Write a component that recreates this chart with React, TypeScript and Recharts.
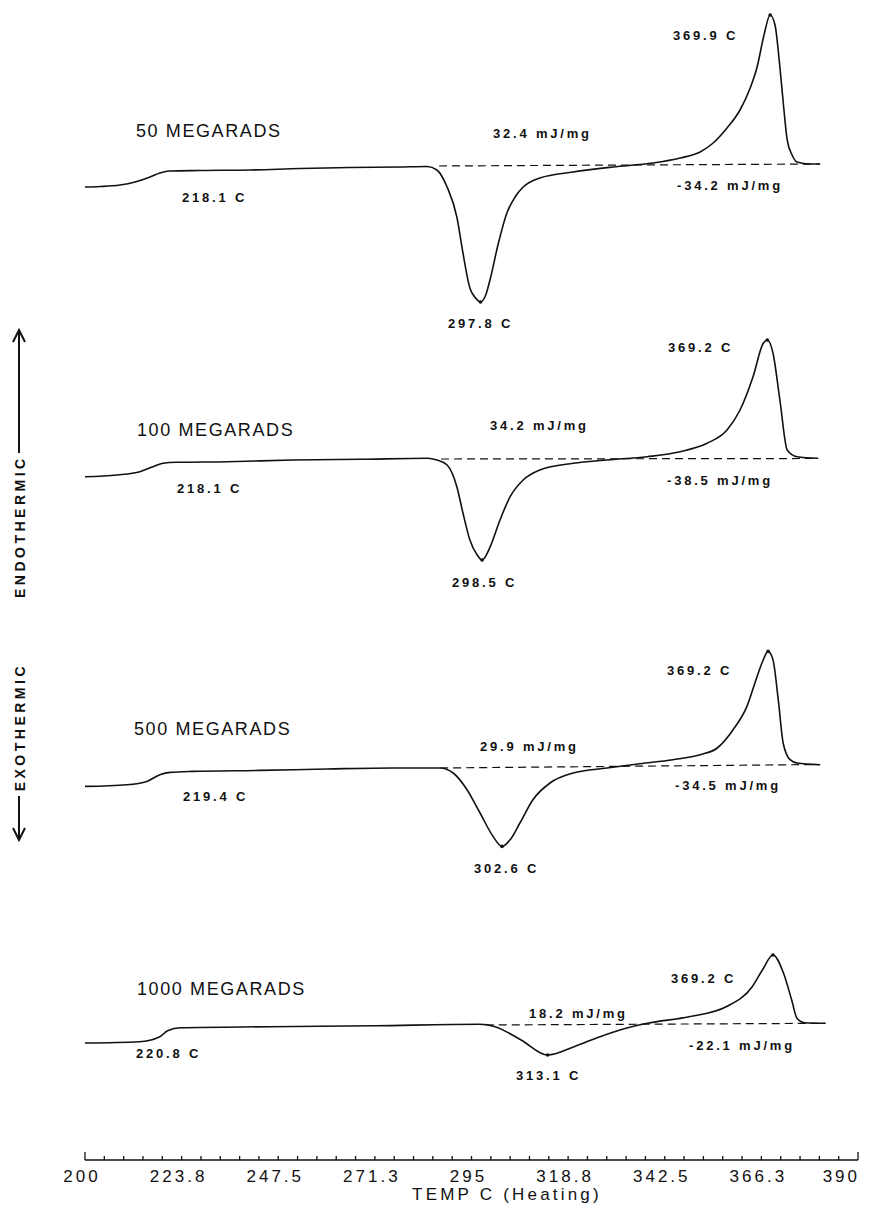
import React from "react";
import { LineChart, Line, XAxis, YAxis, ReferenceDot } from "recharts";

// DSC heating scans, temperature in C, heat flow relative to the
// extrapolated baseline (arbitrary units, endothermic up)
const temp50 = [200, 203.7, 208.6, 212.3, 216.0, 218.4, 220.9, 228.3, 240.6, 252.9, 265.1, 277.4, 284.1, 286.5, 289.0, 291.4, 292.9, 294.6, 296.0, 297.2, 298.4, 299.6, 301.5, 303.7, 305.7, 307.7, 311.8, 320.0, 329.8, 339.6, 346.3, 351.2, 354.4, 357.8, 361.0, 363.5, 365.2, 366.9, 368.4, 369.6, 370.8, 371.8, 372.6, 373.8, 375.0, 378.2, 380.7];
const flow50 = [-21, -20.5, -19, -16, -11, -7, -5, -4.5, -4, -2.5, -1.5, -1, -0.5, -4, -21, -51, -87, -122, -132, -136, -130, -113, -79, -47, -31, -21, -12, -6, -1, 3, 8, 14, 23, 38, 56, 78, 99, 131, 151, 141, 99, 56, 26, 11, 4, 2, 2];

const temp100 = [200, 207.9, 213.5, 216.7, 219.2, 222.6, 234.9, 251.1, 267.6, 284.1, 286.5, 289.0, 291.4, 292.9, 294.6, 296.4, 297.6, 299.6, 302.0, 304.5, 307.7, 311.8, 320.0, 328.3, 338.2, 346.3, 352.9, 357.8, 361.0, 364.2, 366.7, 367.7, 369.1, 370.8, 372.6, 375.0, 380.2];
const flow100 = [-17.7, -16, -12.7, -7.7, -4.3, -3.3, -2.7, -1, -0.3, 0.7, -1, -6, -27.7, -54, -81, -96, -101, -87.7, -61, -37.7, -21, -11, -4.3, -1, 2.3, 7.3, 15.7, 29, 49, 82.3, 115.7, 119, 106, 59, 9, 2.3, 0.7];

const temp500 = [200, 210.3, 215.2, 218.4, 220.9, 226.5, 243.0, 259.5, 275.7, 287.3, 290.5, 293.9, 297.1, 300.3, 302.5, 304.5, 306.9, 310.1, 314.3, 320.0, 328.3, 336.4, 344.5, 351.2, 355.4, 359.3, 362.7, 365.2, 366.7, 367.9, 369.1, 370.4, 371.6, 373.3, 375.0, 380.7];
const flow500 = [-18.4, -16.7, -13.4, -6.7, -4.4, -3.4, -2.4, -1, 0, 0, -5, -21.7, -45, -68.4, -78.4, -71.7, -55, -31.7, -15, -5, 0, 4.3, 8.3, 13.3, 20, 38.3, 61.6, 91.6, 108, 116.6, 108.3, 68.3, 25, 8.3, 5, 3.3];

const temp1000 = [200, 213.3, 218.4, 220.3, 223.5, 245.4, 271.2, 297.0, 300.8, 307.2, 313.7, 320.2, 326.6, 333.0, 338.2, 348.5, 357.6, 364.0, 366.5, 369.1, 371.7, 373.7, 375.0, 376.9, 382.0];
const flow1000 = [-18, -16.7, -11.7, -5.7, -2.7, -1.7, -0.7, 0.7, -1.7, -15, -30, -21.7, -11.7, -3.3, 1.7, 8.3, 18.3, 38.3, 55, 70, 51.7, 25, 6.7, 2.3, 1.7];

// vertical stacking offset of each scan
const traceOffset = [994, 701, 392, 135];

// extrapolated (dashed) baselines
const baseStart = [287.0, 287.5, 287.3, 298.5];
const baseEnd = [380.7, 380.2, 380.7, 382.0];
const baseEndFlow = [2, 0.5, 3.5, 1.7];

const doseLabels = ["50 MEGARADS", "100 MEGARADS", "500 MEGARADS", "1000 MEGARADS"];
const onsetLabels = ["218.1 C", "218.1 C", "219.4 C", "220.8 C"];
const dipLabels = ["297.8 C", "298.5 C", "302.6 C", "313.1 C"];
const peakLabels = ["369.9 C", "369.2 C", "369.2 C", "369.2 C"];
const exoLabels = ["32.4 mJ/mg", "34.2 mJ/mg", "29.9 mJ/mg", "18.2 mJ/mg"];
const endoLabels = ["-34.2 mJ/mg", "-38.5 mJ/mg", "-34.5 mJ/mg", "-22.1 mJ/mg"];

const majorTicks = [200, 223.75, 247.5, 271.25, 295, 318.75, 342.5, 366.25, 390];
const tickLabels = ["200", "223.8", "247.5", "271.3", "295", "318.8", "342.5", "366.3", "390"];

const W = 878;
const H = 1206;
const INK = "#111";
const FONT = "'Liberation Sans', Arial, sans-serif";

const allTicks: number[] = [];
majorTicks.forEach((t, i) => {
  if (i === majorTicks.length - 1) { allTicks.push(t); return; }
  const step = (majorTicks[i + 1] - t) / 5;
  for (let k = 0; k < 5; k++) allTicks.push(+(t + k * step).toFixed(2));
});

function TempTick(props: any) {
  const { x, y, payload } = props;
  const i = allTicks.findIndex((t) => Math.abs(t - payload.value) < 0.01);
  const isEnd = i === 0 || i === allTicks.length - 1;
  const last = i === allTicks.length - 1;
  return (
    <g>
      <line x1={x} x2={x} y1={y} y2={y - (isEnd ? 8 : 4)} stroke={INK} strokeWidth={1.3} />
      {i % 5 === 0 && (
        <text x={last ? x + 2 : x - 3} y={y + 22} textAnchor={last ? "end" : "middle"} fontSize={17}
          letterSpacing={3} fontFamily={FONT} fill={INK}>
          {tickLabels[i / 5]}
        </text>
      )}
    </g>
  );
}

// label positions (left x, baseline y) per scan
const dosePos = [[136, 137], [137, 436], [134, 735], [137, 995]];
const onsetPos = [[182, 202], [177, 493], [183, 801], [136, 1058]];
const dipPos = [[448, 328], [452, 587], [474, 873], [516, 1080]];
const peakPos = [[673, 40], [668, 352], [667, 675], [671, 983]];
const exoPos = [[493, 138], [490, 430], [480, 751], [529, 1018]];
const endoPos = [[677, 190], [667, 485], [675, 790], [689, 1050]];

export default function App() {
  const scans = [
    { temps: temp50, flow: flow50 },
    { temps: temp100, flow: flow100 },
    { temps: temp500, flow: flow500 },
    { temps: temp1000, flow: flow1000 },
  ].map((s, k) => s.temps.map((t, i) => ({ t, v: traceOffset[k] + s.flow[i] })));

  const baselines = traceOffset.map((off, k) => [
    { t: baseStart[k], v: off },
    { t: baseEnd[k], v: off + baseEndFlow[k] },
  ]);

  const extremes = scans.map((pts) => {
    let lo = pts[0], hi = pts[0];
    pts.forEach((p) => { if (p.v < lo.v) lo = p; if (p.v > hi.v) hi = p; });
    return [lo, hi];
  });

  const small = { fontSize: 13, fontWeight: 700, letterSpacing: 2.8, fontFamily: FONT, fill: INK } as any;
  const big = { fontSize: 18, letterSpacing: 1.6, fontFamily: FONT, fill: INK } as any;

  return (
    <div style={{ position: "absolute", left: 0, top: 0, width: W, height: H, overflow: "hidden", background: "#fff" }}>
      <LineChart width={W} height={H} margin={{ top: 0, right: 20, bottom: 0, left: 85 }}>
        <XAxis type="number" dataKey="t" domain={[200, 390]} ticks={allTicks} interval={0}
          height={46} tickSize={0} tickMargin={0} tickLine={false}
          axisLine={{ stroke: INK, strokeWidth: 1.6 }} tick={(p: any) => <TempTick {...p} />} allowDataOverflow />
        <YAxis type="number" hide domain={[0, 1160]} allowDataOverflow />
        {baselines.map((d, k) => (
          <Line key={"b" + k} data={d} dataKey="v" type="linear" stroke={INK} strokeWidth={1.2}
            strokeDasharray="8 5" dot={false} isAnimationActive={false} />
        ))}
        {scans.map((d, k) => (
          <Line key={"s" + k} data={d} dataKey="v" type="monotone" stroke={INK} strokeWidth={1.6}
            dot={false} isAnimationActive={false} />
        ))}
        {extremes.flat().map((p, k) => (
          <ReferenceDot key={"e" + k} x={p.t} y={p.v} r={1.8} fill={INK} stroke="none" />
        ))}
      </LineChart>

      <svg width={W} height={H} style={{ position: "absolute", left: 0, top: 0, pointerEvents: "none" }}>
        {doseLabels.map((s, k) => <text key={"d" + k} x={dosePos[k][0]} y={dosePos[k][1]} {...big}>{s}</text>)}
        {onsetLabels.map((s, k) => <text key={"o" + k} x={onsetPos[k][0]} y={onsetPos[k][1]} {...small}>{s}</text>)}
        {dipLabels.map((s, k) => <text key={"m" + k} x={dipPos[k][0]} y={dipPos[k][1]} {...small}>{s}</text>)}
        {peakLabels.map((s, k) => <text key={"p" + k} x={peakPos[k][0]} y={peakPos[k][1]} {...small}>{s}</text>)}
        {exoLabels.map((s, k) => <text key={"x" + k} x={exoPos[k][0]} y={exoPos[k][1]} {...small}>{s}</text>)}
        {endoLabels.map((s, k) => <text key={"n" + k} x={endoPos[k][0]} y={endoPos[k][1]} {...small}>{s}</text>)}

        <text x={507} y={1200} textAnchor="middle" fontSize={17} letterSpacing={3.2} fontFamily={FONT} fill={INK}>
          {"TEMP C  (Heating)"}
        </text>

        {/* direction arrows */}
        <text x={25} y={598} transform="rotate(-90 25 598)" fontSize={14} fontWeight={700}
          letterSpacing={3.5} fontFamily={FONT} fill={INK}>ENDOTHERMIC</text>
        <line x1={19} y1={453} x2={19} y2={331} stroke={INK} strokeWidth={2} />
        <path d="M13,342 L19,330 L25,342" fill="none" stroke={INK} strokeWidth={2} />

        <text x={25} y={663} transform="rotate(-90 25 663)" textAnchor="end" fontSize={14} fontWeight={700}
          letterSpacing={3.5} fontFamily={FONT} fill={INK}>EXOTHERMIC</text>
        <line x1={19} y1={796} x2={19} y2={839} stroke={INK} strokeWidth={2} />
        <path d="M13,828 L19,840 L25,828" fill="none" stroke={INK} strokeWidth={2} />
      </svg>
    </div>
  );
}
